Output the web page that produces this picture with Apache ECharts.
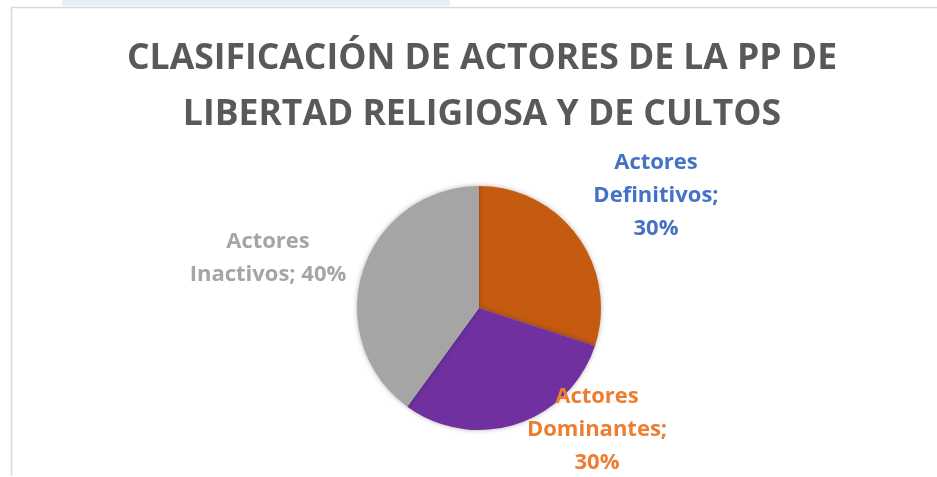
<!DOCTYPE html>
<html>
  <head>
    <meta charset="utf-8" />
    <title>Clasificación de actores</title>
    <script src="https://cdn.jsdelivr.net/npm/echarts@6/dist/echarts.min.js"></script>
    <style>
      body { margin: 0; background: #fff; }
      #chart { width: 937px; height: 477px; }
    </style>
  </head>
  <body>
    <div id="chart"></div>
    <script type="text/javascript">
      // datos del grafico
      var categorias = ["Actores Definitivos", "Actores Dominantes", "Actores Inactivos"];
      var valores = [30, 30, 40];
      var etiquetas = ["Actores\nDefinitivos;\n30%", "Actores\nDominantes;\n30%", "Actores\nInactivos; 40%"];
      var coloresSector = ["#C55A11", "#7030A0", "#A5A5A5"];
      var coloresEtiqueta = ["#4472C4", "#ED7D31", "#A5A5A5"];
      // posiciones de las etiquetas (centro)
      var posEtiqueta = [[656, 196], [597, 430], [268, 258]];

      var datos = categorias.map(function (c, i) {
        return {
          name: c,
          value: valores[i],
          itemStyle: { color: coloresSector[i] },
          label: { color: coloresEtiqueta[i] },
        };
      });

      var myChart = echarts.init(document.getElementById("chart"));
      myChart.setOption({
        animation: false,
        title: {
          text: "CLASIFICACIÓN DE ACTORES DE LA PP DE\nLIBERTAD RELIGIOSA Y DE CULTOS",
          left: 477,
          textAlign: "center",
          top: 26,
          textStyle: {
            fontFamily: "Open Sans",
            fontWeight: "bold",
            fontSize: 35.5,
            lineHeight: 56,
            color: "#595959",
          },
        },
        graphic: [
          {
            type: "rect",
            shape: { x: 62, y: 0, width: 388, height: 6 },
            style: { fill: "#e8eef3" },
          },
          {
            type: "polyline",
            shape: { points: [[11.5, 476], [11.5, 7.5], [937, 7.5]] },
            style: { stroke: "#d9d9d9", lineWidth: 1.5, fill: null },
          },
        ],
        series: [
          {
            type: "pie",
            center: [479, 308],
            radius: 122,
            startAngle: 90,
            clockwise: true,
            data: datos,
            itemStyle: {
              borderWidth: 0,
              shadowBlur: 5,
              shadowColor: "rgba(0,0,0,0.3)",
            },
            label: {
              show: true,
              position: "outside",
              formatter: function (p) {
                return etiquetas[p.dataIndex];
              },
              fontFamily: "Open Sans",
              fontWeight: "bold",
              fontSize: 22,
              lineHeight: 33,
              align: "center",
            },
            labelLine: { show: false },
            labelLayout: function (p) {
              var pos = posEtiqueta[p.dataIndex];
              return {
                x: pos[0],
                y: pos[1],
                align: "center",
                verticalAlign: "middle",
              };
            },
            emphasis: { disabled: true },
          },
        ],
      });
    </script>
  </body>
</html>
